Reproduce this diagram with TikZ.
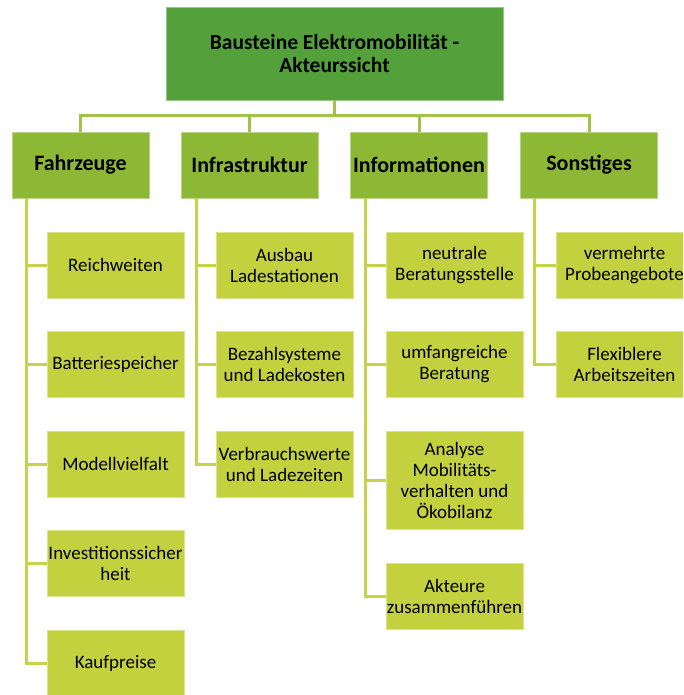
\documentclass[tikz,border=0pt]{standalone}
\usepackage{fontspec}
\setmainfont{Carlito}
\definecolor{topgreen}{RGB}{84,160,58}
\definecolor{midgreen}{RGB}{141,184,54}
\definecolor{leafgreen}{RGB}{195,209,63}
\definecolor{linetop}{RGB}{160,196,72}
\definecolor{lineleaf}{RGB}{196,211,74}
\tikzset{
  topbox/.style={fill=topgreen, draw=topgreen!60!white, line width=0.8pt, minimum width=337pt, minimum height=93pt, align=center, inner sep=2pt, font=\fontsize{21.5}{23}\selectfont\bfseries},
  catbox/.style={fill=midgreen, draw=midgreen!60!white, line width=0.8pt, minimum width=137pt, minimum height=66pt, align=center, inner sep=1pt, font=\fontsize{22}{24}\selectfont\bfseries},
  leafbox/.style={fill=leafgreen, draw=leafgreen!60!white, line width=0.8pt, minimum width=137pt, minimum height=66pt, align=center, inner sep=1pt, font=\fontsize{19}{21}\selectfont},
  toplink/.style={draw=linetop, line width=3pt},
  leaflink/.style={draw=lineleaf, line width=3pt}
}
\begin{document}
\begin{tikzpicture}[x=1pt,y=-1pt]
\clip (0,0) rectangle (683,695);
\fill[white] (0,0) rectangle (683,695);
% top
\node[topbox] (top) at (334.5,53.5) {Bausteine Elektromobilität -\\Akteurssicht};
% categories
\node[catbox] (c1) at (80.5,165) {Fahrzeuge};
\node[catbox] (c2) at (249.5,165) {Infrastruktur};
\node[catbox] (c3) at (419,165) {Informationen};
\node[catbox] (c4) at (589,165) {Sonstiges};
% leaves Fahrzeuge
\node[leafbox] (a1) at (115.5,265) {Reichweiten};
\node[leafbox] (a2) at (115.5,364) {Batteriespeicher};
\node[leafbox] (a3) at (115.5,464) {Modellvielfalt};
\node[leafbox] (a4) at (115.5,563) {Investitionssicher\\heit};
\node[leafbox] (a5) at (115.5,663) {Kaufpreise};
% leaves Infrastruktur
\node[leafbox] (b1) at (284.5,265) {Ausbau\\Ladestationen};
\node[leafbox] (b2) at (284.5,364) {Bezahlsysteme\\und Ladekosten};
\node[leafbox] (b3) at (284.5,464) {Verbrauchswerte\\und Ladezeiten};
% leaves Informationen
\node[leafbox] (d1) at (454.5,265) {neutrale\\Beratungsstelle};
\node[leafbox] (d2) at (454.5,364) {umfangreiche\\Beratung};
\node[leafbox, minimum height=98pt] (d3) at (454.5,480) {Analyse\\Mobilitäts-\\verhalten und\\Ökobilanz};
\node[leafbox] (d4) at (454.5,596) {Akteure\\zusammenführen};
% leaves Sonstiges
\node[leafbox] (e1) at (624.5,265) {vermehrte\\Probeangebote};
\node[leafbox] (e2) at (624.5,364) {Flexiblere\\Arbeitszeiten};
% top connectors
\coordinate (bus) at (334.5,116);
\foreach \c in {c1,c2,c3,c4}{
  \draw[toplink] (top.south) -- (bus) -| (\c.north);
}
% leaf connectors
\foreach \c/\x/\leaves in {c1/26/{a1,a2,a3,a4,a5}, c2/196/{b1,b2,b3}, c3/365/{d1,d2,d3,d4}, c4/534/{e1,e2}}{
  \foreach \l in \leaves {
    \draw[leaflink] (\c.south -| \x,0) |- (\l.west);
  }
}
\end{tikzpicture}
\end{document}
